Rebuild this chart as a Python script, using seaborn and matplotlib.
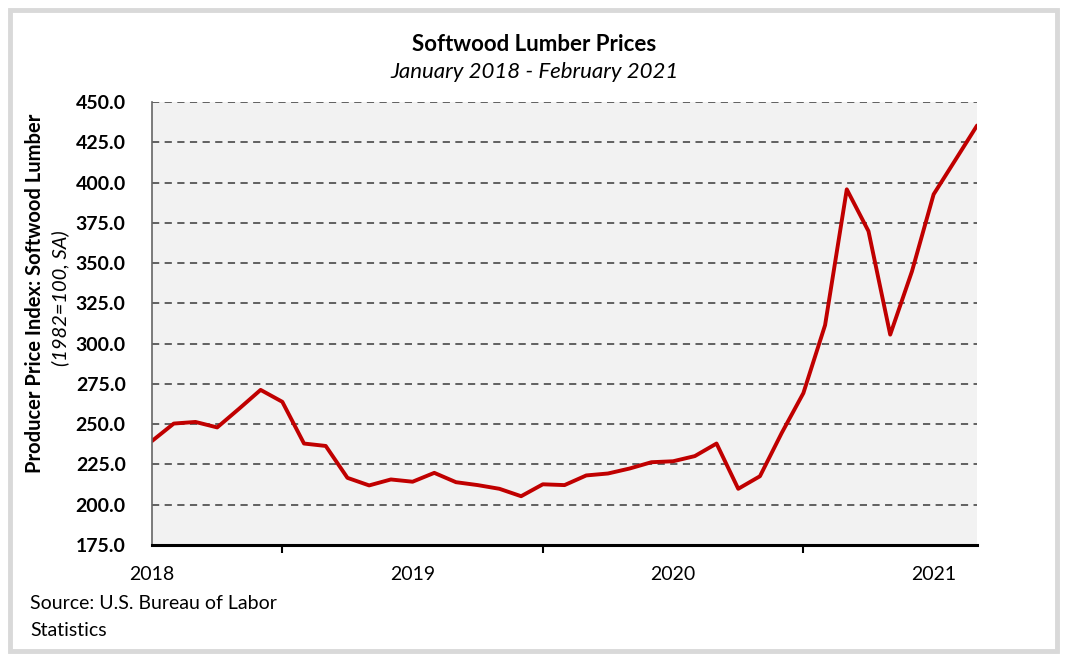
import matplotlib
matplotlib.use("Agg")
import matplotlib.pyplot as plt
import matplotlib.patches as patches
from matplotlib.ticker import MultipleLocator, FixedLocator, FuncFormatter
import pandas as pd
import seaborn as sns

# monthly index, Jan 2018 onwards (month 0 = Jan 2018)
months = list(range(39))
ppi = [239.6, 250.4, 251.4, 248.0, 259.5, 271.3, 263.9, 238.0, 236.5, 216.7,
       212.0, 215.7, 214.3, 219.8, 214.0, 212.2, 209.9, 205.3, 212.7, 212.2,
       218.2, 219.4, 222.5, 226.4, 227.0, 230.2, 238.0, 209.9, 217.7, 244.5,
       269.3, 311.5, 395.8, 369.8, 305.6, 344.8, 392.7, 414.0, 435.4]
year_labels = ["2018", "2019", "2020", "2021"]
year_pos = [0, 12, 24, 36]
half_pos = [6, 18, 30]

df = pd.DataFrame({"month": months, "ppi": ppi})

sns.set_theme(style="white")
plt.rcParams["font.family"] = ["Lato", "DejaVu Sans"]
plt.rcParams["text.color"] = "black"
plt.rcParams["xtick.color"] = "black"
plt.rcParams["ytick.color"] = "black"

fig = plt.figure(figsize=(10.67, 6.62), dpi=100)
ax = fig.add_axes([0.1425, 0.1767, 0.7732, 0.6692])
ax.set_facecolor("#f2f2f2")

# frame around the whole picture
fig.patches.append(patches.Rectangle((0.009, 0.017), 0.982, 0.968, transform=fig.transFigure,
                                     fill=False, edgecolor="#d9d9d9", linewidth=3.5))

ax.yaxis.grid(True, linestyle=(0, (4, 3)), color="#555555", linewidth=1.3)
ax.set_axisbelow(True)

sns.lineplot(data=df, x="month", y="ppi", ax=ax, color="#c00000", linewidth=2.8)

ax.set_xlim(0, 38)
ax.set_ylim(175, 450)
ax.yaxis.set_major_locator(MultipleLocator(25))
ax.yaxis.set_major_formatter(FuncFormatter(lambda v, p: f"{v:.1f}"))
ax.xaxis.set_major_locator(FixedLocator(year_pos))
ax.xaxis.set_minor_locator(FixedLocator(half_pos))
ax.set_xticklabels(year_labels)

ax.tick_params(axis="y", labelsize=14, length=7, width=1, color="#555555", direction="out", pad=12)
ax.tick_params(axis="x", which="both", labelsize=14, length=6, width=1.5, color="black", direction="out", pad=9)
ax.tick_params(axis="x", which="minor", bottom=True)
for lab in ax.get_yticklabels():
    lab.set_fontweight("bold")

for s in ["top", "right"]:
    ax.spines[s].set_visible(False)
ax.spines["left"].set_color("#666666")
ax.spines["left"].set_linewidth(1.2)
ax.spines["bottom"].set_color("black")
ax.spines["bottom"].set_linewidth(2.2)

ax.set_xlabel("")
ax.set_ylabel("")

fig.text(0.501, 0.933, "Softwood Lumber Prices", ha="center", va="center", fontsize=16, fontweight="bold")
fig.text(0.501, 0.891, "January 2018 - February 2021", ha="center", va="center", fontsize=16, style="italic")

fig.text(0.033, 0.557, "Producer Price Index: Softwood Lumber", rotation=90, ha="center", va="center",
         fontsize=14.5, fontweight="bold")
fig.text(0.056, 0.55, "(1982=100, SA)", rotation=90, ha="center", va="center",
         fontsize=14.5, style="italic")

fig.text(0.028, 0.088, "Source: U.S. Bureau of Labor", ha="left", va="center", fontsize=14)
fig.text(0.028, 0.048, "Statistics", ha="left", va="center", fontsize=14)

fig.savefig("out.png", dpi=100, facecolor="white")
